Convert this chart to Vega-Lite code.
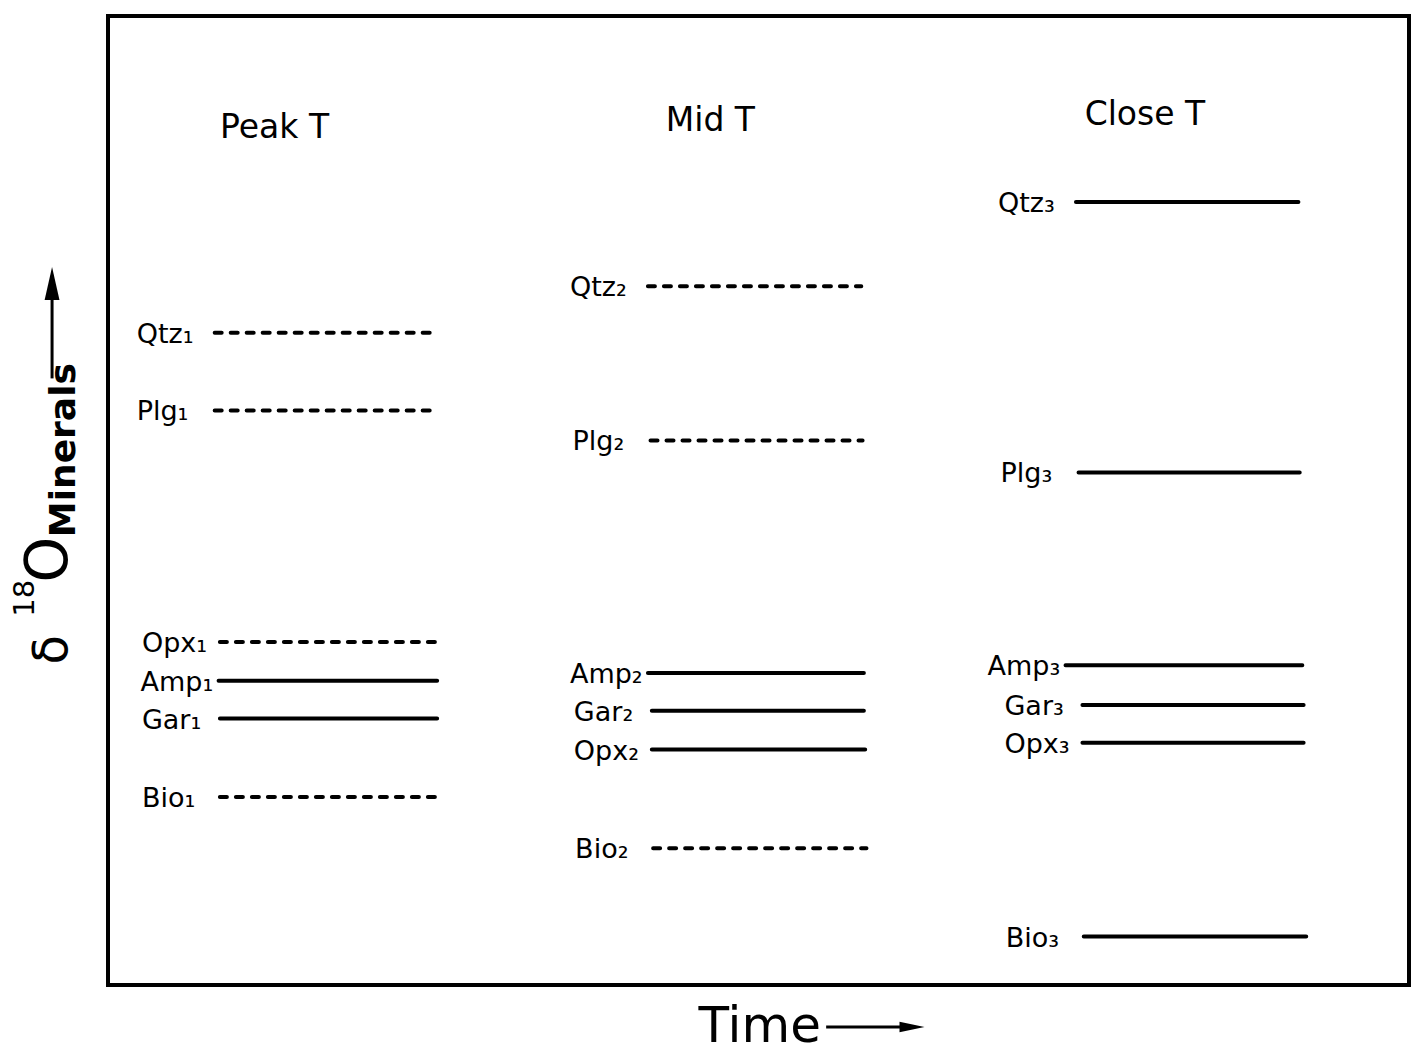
{
  "$schema": "https://vega.github.io/schema/vega-lite/v6.json",
  "width": 1301,
  "height": 969,
  "autosize": {"type": "none"},
  "padding": {"left": 108, "top": 16, "right": 4, "bottom": 68},
  "background": "white",
  "config": {
    "view": {"stroke": "black", "strokeWidth": 4},
    "text": {"font": "DejaVu Sans", "color": "black"}
  },
  "layer": [
    {
      "data": {"values": [
        {"label": "Qtz₁", "t0": 8.2, "t1": 25.1, "d18O": 67.3, "status": "open"},
        {"label": "Plg₁", "t0": 8.2, "t1": 25.1, "d18O": 59.3, "status": "open"},
        {"label": "Opx₁", "t0": 8.6, "t1": 25.3, "d18O": 35.4, "status": "open"},
        {"label": "Amp₁", "t0": 8.5, "t1": 25.3, "d18O": 31.4, "status": "closed"},
        {"label": "Gar₁", "t0": 8.6, "t1": 25.3, "d18O": 27.5, "status": "closed"},
        {"label": "Bio₁", "t0": 8.6, "t1": 25.4, "d18O": 19.4, "status": "open"},
        {"label": "Qtz₂", "t0": 41.5, "t1": 57.9, "d18O": 72.1, "status": "open"},
        {"label": "Plg₂", "t0": 41.7, "t1": 58.0, "d18O": 56.2, "status": "open"},
        {"label": "Amp₂", "t0": 41.5, "t1": 58.1, "d18O": 32.2, "status": "closed"},
        {"label": "Gar₂", "t0": 41.8, "t1": 58.1, "d18O": 28.3, "status": "closed"},
        {"label": "Opx₂", "t0": 41.8, "t1": 58.2, "d18O": 24.3, "status": "closed"},
        {"label": "Bio₂", "t0": 41.9, "t1": 58.3, "d18O": 14.1, "status": "open"},
        {"label": "Qtz₃", "t0": 74.4, "t1": 91.5, "d18O": 80.8, "status": "closed"},
        {"label": "Plg₃", "t0": 74.6, "t1": 91.6, "d18O": 52.9, "status": "closed"},
        {"label": "Amp₃", "t0": 73.6, "t1": 91.8, "d18O": 33.0, "status": "closed"},
        {"label": "Gar₃", "t0": 74.9, "t1": 91.9, "d18O": 28.9, "status": "closed"},
        {"label": "Opx₃", "t0": 74.9, "t1": 91.9, "d18O": 25.0, "status": "closed"},
        {"label": "Bio₃", "t0": 75.0, "t1": 92.1, "d18O": 5.0, "status": "closed"}
      ]},
      "layer": [
        {
          "mark": {"type": "rule", "color": "black", "strokeWidth": 4, "strokeCap": "round"},
          "encoding": {
            "x": {"field": "t0", "type": "quantitative", "scale": {"domain": [0, 100], "nice": false, "zero": false}, "axis": null},
            "x2": {"field": "t1"},
            "y": {"field": "d18O", "type": "quantitative", "scale": {"domain": [0, 100], "nice": false, "zero": false}, "axis": null},
            "strokeDash": {"field": "status", "type": "nominal", "scale": {"domain": ["open", "closed"], "range": [[7, 9], [1, 0]]}, "legend": null}
          }
        },
        {
          "mark": {"type": "text", "align": "left", "baseline": "alphabetic", "dx": -78, "dy": 10, "fontSize": 27},
          "encoding": {
            "x": {"field": "t0", "type": "quantitative", "scale": {"domain": [0, 100], "nice": false, "zero": false}, "axis": null},
            "y": {"field": "d18O", "type": "quantitative", "scale": {"domain": [0, 100], "nice": false, "zero": false}, "axis": null},
            "text": {"field": "label"}
          }
        }
      ]
    },
    {
      "data": {"values": [
        {"text": "Peak  T", "x": 12.8, "y": 87.4},
        {"text": "Mid  T", "x": 46.3, "y": 88.1},
        {"text": "Close  T", "x": 79.7, "y": 88.8}
      ]},
      "mark": {"type": "text", "align": "center", "baseline": "alphabetic", "fontSize": 33},
      "encoding": {
        "x": {"field": "x", "type": "quantitative", "scale": {"domain": [0, 100], "nice": false, "zero": false}, "axis": null},
        "y": {"field": "y", "type": "quantitative", "scale": {"domain": [0, 100], "nice": false, "zero": false}, "axis": null},
        "text": {"field": "text"}
      }
    },
    {
      "data": {"values": [{"text": "Time", "x": 50.1, "y": -5.9}]},
      "mark": {"type": "text", "align": "center", "baseline": "alphabetic", "fontSize": 50},
      "encoding": {
        "x": {"field": "x", "type": "quantitative", "scale": {"domain": [0, 100], "nice": false, "zero": false}, "axis": null},
        "y": {"field": "y", "type": "quantitative", "scale": {"domain": [0, 100], "nice": false, "zero": false}, "axis": null},
        "text": {"field": "text"}
      }
    },
    {
      "data": {"values": [{"text": "O", "x": -3.15, "y": 43.9}]},
      "mark": {"type": "text", "align": "center", "baseline": "alphabetic", "angle": 270, "fontSize": 58},
      "encoding": {
        "x": {"field": "x", "type": "quantitative", "scale": {"domain": [0, 100], "nice": false, "zero": false}, "axis": null},
        "y": {"field": "y", "type": "quantitative", "scale": {"domain": [0, 100], "nice": false, "zero": false}, "axis": null},
        "text": {"field": "text"}
      }
    },
    {
      "data": {"values": [{"text": "δ", "x": -3.15, "y": 34.6}]},
      "mark": {"type": "text", "align": "center", "baseline": "alphabetic", "angle": 270, "fontSize": 48},
      "encoding": {
        "x": {"field": "x", "type": "quantitative", "scale": {"domain": [0, 100], "nice": false, "zero": false}, "axis": null},
        "y": {"field": "y", "type": "quantitative", "scale": {"domain": [0, 100], "nice": false, "zero": false}, "axis": null},
        "text": {"field": "text"}
      }
    },
    {
      "data": {"values": [{"text": "18", "x": -5.7, "y": 39.9}]},
      "mark": {"type": "text", "align": "center", "baseline": "alphabetic", "angle": 270, "fontSize": 29},
      "encoding": {
        "x": {"field": "x", "type": "quantitative", "scale": {"domain": [0, 100], "nice": false, "zero": false}, "axis": null},
        "y": {"field": "y", "type": "quantitative", "scale": {"domain": [0, 100], "nice": false, "zero": false}, "axis": null},
        "text": {"field": "text"}
      }
    },
    {
      "data": {"values": [{"text": "Minerals", "x": -2.5, "y": 55.2}]},
      "mark": {"type": "text", "align": "center", "baseline": "alphabetic", "angle": 270, "fontSize": 36, "fontWeight": 600},
      "encoding": {
        "x": {"field": "x", "type": "quantitative", "scale": {"domain": [0, 100], "nice": false, "zero": false}, "axis": null},
        "y": {"field": "y", "type": "quantitative", "scale": {"domain": [0, 100], "nice": false, "zero": false}, "axis": null},
        "text": {"field": "text"}
      }
    },
    {
      "data": {"values": [{"x": 55.2, "x2": 61.3, "y": -4.33}]},
      "mark": {"type": "rule", "color": "black", "strokeWidth": 3},
      "encoding": {
        "x": {"field": "x", "type": "quantitative", "scale": {"domain": [0, 100], "nice": false, "zero": false}, "axis": null},
        "x2": {"field": "x2"},
        "y": {"field": "y", "type": "quantitative", "scale": {"domain": [0, 100], "nice": false, "zero": false}, "axis": null}
      }
    },
    {
      "data": {"values": [{"x": -4.3, "y": 62.6, "y2": 71.5}]},
      "mark": {"type": "rule", "color": "black", "strokeWidth": 3},
      "encoding": {
        "x": {"field": "x", "type": "quantitative", "scale": {"domain": [0, 100], "nice": false, "zero": false}, "axis": null},
        "y": {"field": "y", "type": "quantitative", "scale": {"domain": [0, 100], "nice": false, "zero": false}, "axis": null},
        "y2": {"field": "y2"}
      }
    },
    {
      "data": {"values": [{"x": 61.8, "y": -4.33}]},
      "mark": {"type": "point", "filled": true, "color": "black", "opacity": 1, "size": 625, "shape": "M-1,-0.42L1,0L-1,0.42Z"},
      "encoding": {
        "x": {"field": "x", "type": "quantitative", "scale": {"domain": [0, 100], "nice": false, "zero": false}, "axis": null},
        "y": {"field": "y", "type": "quantitative", "scale": {"domain": [0, 100], "nice": false, "zero": false}, "axis": null}
      }
    },
    {
      "data": {"values": [{"x": -4.3, "y": 72.4}]},
      "mark": {"type": "point", "filled": true, "color": "black", "opacity": 1, "size": 1089, "shape": "M-0.45,1L0,-1L0.45,1Z"},
      "encoding": {
        "x": {"field": "x", "type": "quantitative", "scale": {"domain": [0, 100], "nice": false, "zero": false}, "axis": null},
        "y": {"field": "y", "type": "quantitative", "scale": {"domain": [0, 100], "nice": false, "zero": false}, "axis": null}
      }
    }
  ]
}
